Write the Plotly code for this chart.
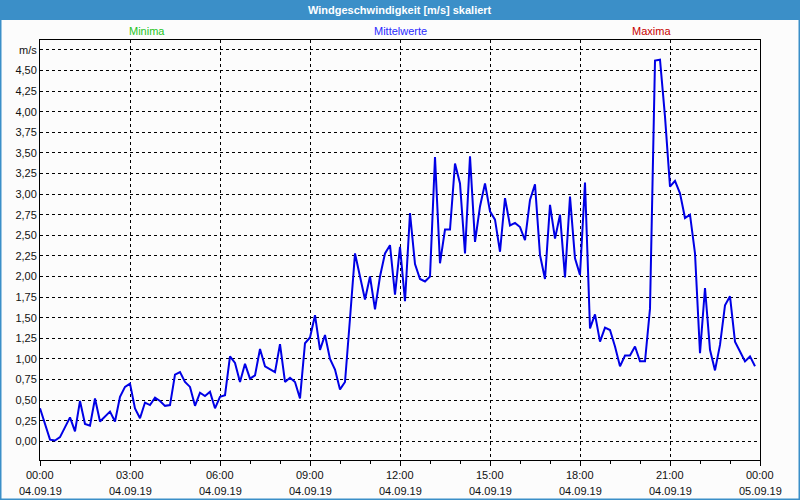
import plotly.graph_objects as go
import numpy as np

# ---- data ----
times = ["00:00","00:20","00:30","00:40","01:00","01:10","01:20","01:30","01:40","01:50",
         "02:00","02:20","02:30","02:40","02:50","03:00","03:10","03:20","03:30","03:40",
         "03:50","04:00","04:10","04:20","04:30","04:40","04:50","05:00","05:10","05:20",
         "05:30","05:40","05:50","06:00","06:10","06:20","06:30","06:40","06:50","07:00",
         "07:10","07:20","07:30","07:40","07:50","08:00","08:10","08:20","08:30","08:40",
         "08:50","09:00","09:10","09:20","09:30","09:40","09:50","10:00","10:10","10:20",
         "10:30","10:40","10:50","11:00","11:10","11:20","11:30","11:40","11:50","12:00",
         "12:10","12:20","12:30","12:40","12:50","13:00","13:10","13:20","13:30","13:40",
         "13:50","14:00","14:10","14:20","14:30","14:40","14:50","15:00","15:10","15:20",
         "15:30","15:40","15:50","16:00","16:10","16:20","16:30","16:40","16:50","17:00",
         "17:10","17:20","17:30","17:40","17:50","18:00","18:10","18:20","18:30","18:40",
         "18:50","19:00","19:10","19:20","19:30","19:40","19:50","20:00","20:10","20:20",
         "20:30","20:40","20:50","21:00","21:10","21:20","21:30","21:40","21:50","22:00",
         "22:10","22:20","22:30","22:40","22:50","23:00","23:10","23:20","23:30","23:40",
         "23:50"]
speed = [0.40,0.02,0.01,0.05,0.29,0.12,0.49,0.21,0.19,0.52,
         0.24,0.36,0.24,0.54,0.66,0.70,0.40,0.28,0.47,0.44,
         0.53,0.49,0.43,0.44,0.81,0.84,0.72,0.66,0.43,0.59,
         0.55,0.60,0.40,0.54,0.56,1.03,0.95,0.72,0.94,0.76,
         0.80,1.12,0.91,0.87,0.84,1.18,0.72,0.77,0.72,0.52,
         1.19,1.26,1.53,1.11,1.29,1.00,0.87,0.63,0.72,1.49,
         2.28,2.00,1.72,2.00,1.60,2.00,2.28,2.38,1.78,2.36,
         1.70,2.77,2.15,1.97,1.94,2.00,3.45,2.16,2.57,2.57,
         3.37,3.13,2.28,3.46,2.42,2.85,3.13,2.79,2.69,2.30,
         2.95,2.62,2.65,2.60,2.44,2.93,3.12,2.26,1.97,2.87,
         2.46,2.75,1.99,2.97,2.22,2.02,3.14,1.37,1.54,1.21,
         1.38,1.35,1.15,0.91,1.04,1.04,1.15,0.97,0.97,1.61,
         4.62,4.63,3.94,3.09,3.16,3.01,2.71,2.75,2.28,1.07,
         1.86,1.11,0.86,1.17,1.65,1.76,1.21,1.09,0.97,1.03,
         0.91]
day = "2019-09-04"
x_tick_hours = [0, 3, 6, 9, 12, 15, 18, 21, 24]
x_tick_time = ["00:00","03:00","06:00","09:00","12:00","15:00","18:00","21:00","00:00"]
x_tick_date = ["04.09.19","04.09.19","04.09.19","04.09.19","04.09.19",
               "04.09.19","04.09.19","04.09.19","05.09.19"]
y_tick_vals = [round(0.25 * i, 2) for i in range(20)]
y_tick_text = [f"{v:.2f}".replace(".", ",") for v in y_tick_vals[:-1]] + ["m/s"]
title_text = "Windgeschwindigkeit [m/s] skaliert"
header_labels = ["Minima", "Mittelwerte", "Maxima"]
header_colors = ["#1fc41f", "#2a2aff", "#c80000"]
header_xpos = [0.149, 0.5, 0.849]

# ---- figure ----
t0 = np.datetime64(day + "T00:00")
xs = [str(np.datetime64(day + "T" + t)) for t in times]
tickvals = [str(t0 + np.timedelta64(h, "h")) for h in x_tick_hours]

W, H = 800, 500
L, R, T, B = 40, 40, 40, 40
pw, ph = W - L - R, H - T - B
def px(xp):  # pixel -> paper x
    return (xp - L) / pw
def py(yp):  # pixel -> paper y
    return 1 - (yp - T) / ph

FONT = "Liberation Sans"
BLUE = "#3b8fc8"
TXT = "#111111"

fig = go.Figure()
fig.add_trace(go.Scatter(x=xs, y=speed, mode="lines",
                         line=dict(color="#0000e6", width=2), showlegend=False))

fig.update_layout(
    width=W, height=H,
    margin=dict(l=L, r=R, t=T, b=B),
    paper_bgcolor="#fcfcfc", plot_bgcolor="#fcfcfc",
    font=dict(family=FONT, size=11, color=TXT),
    xaxis=dict(
        range=[str(t0), str(t0 + np.timedelta64(24, "h"))],
        tickmode="array", tickvals=tickvals, showticklabels=False,
        ticks="outside", ticklen=5, tickcolor="black",
        showgrid=True, gridcolor="black", gridwidth=1, griddash="3px,3px",
        showline=True, linecolor="black", linewidth=1, mirror=True,
        zeroline=False, automargin=False,
        minor=dict(tickmode="linear", tick0=str(t0), dtick=3600000,
                   ticks="outside", ticklen=3, tickcolor="black", showgrid=False),
    ),
    yaxis=dict(
        range=[-0.227, 4.87], automargin=False,
        tickmode="array", tickvals=y_tick_vals, ticktext=y_tick_text,
        ticks="", showgrid=True, gridcolor="black", gridwidth=1, griddash="3px,3px",
        showline=True, linecolor="black", linewidth=1, mirror=True,
        zeroline=False,
    ),
)

# x tick labels (two lines: time and date)
for tv, tt, dd in zip(tickvals, x_tick_time, x_tick_date):
    fig.add_annotation(text=tt, xref="x", yref="paper", x=tv, y=py(475),
                       xanchor="center", yanchor="middle", showarrow=False,
                       font=dict(family=FONT, size=11, color=TXT))
    fig.add_annotation(text=dd, xref="x", yref="paper", x=tv, y=py(491),
                       xanchor="center", yanchor="middle", showarrow=False,
                       font=dict(family=FONT, size=11, color=TXT))

# window frame and title bar
fig.add_shape(type="rect", xref="paper", yref="paper",
              x0=px(0), x1=px(W), y0=py(H), y1=py(0),
              line=dict(color=BLUE, width=3), fillcolor="rgba(0,0,0,0)", layer="above")
fig.add_shape(type="rect", xref="paper", yref="paper",
              x0=px(0), x1=px(W), y0=py(20), y1=py(0),
              line=dict(width=0), fillcolor=BLUE, layer="above")
fig.add_annotation(text="<b>" + title_text + "</b>", xref="paper", yref="paper",
                   x=0.5, y=py(10), xanchor="center", yanchor="middle", showarrow=False,
                   font=dict(family=FONT, size=11, color="white"))
for lab, col, xp in zip(header_labels, header_colors, header_xpos):
    fig.add_annotation(text=lab, xref="paper", yref="paper", x=xp, y=py(31),
                       xanchor="center", yanchor="middle", showarrow=False,
                       font=dict(family=FONT, size=11, color=col))

fig.write_html("out.html")
